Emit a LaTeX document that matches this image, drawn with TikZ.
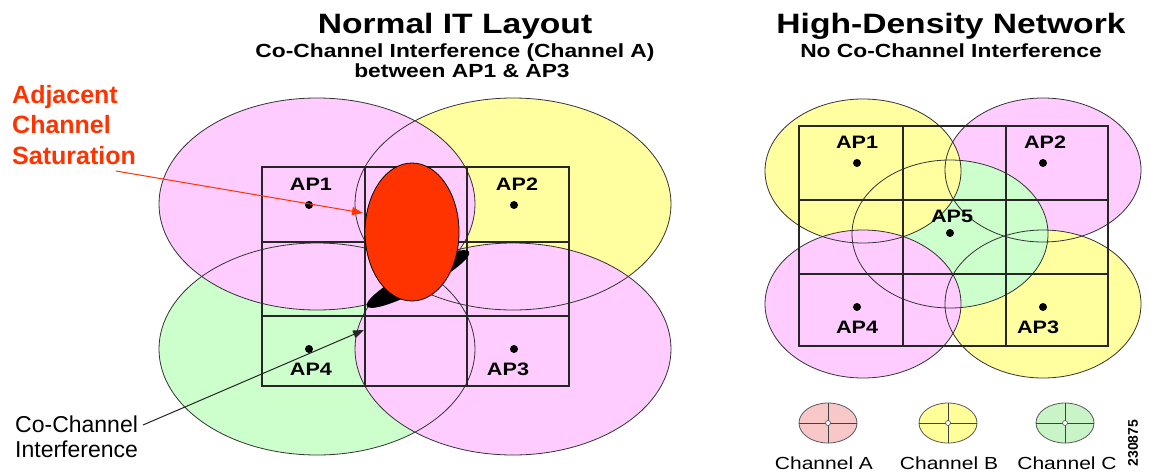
\documentclass[tikz,border=0pt]{standalone}
\usepackage{fontspec}
\setmainfont{Liberation Sans}
\usetikzlibrary{arrows.meta,shapes.geometric}
\definecolor{chpink}{HTML}{FFCCFF}
\definecolor{chyellow}{HTML}{FFFFA0}
\definecolor{chgreen}{HTML}{CCFFCC}
\definecolor{legA}{HTML}{F8C8C8}
\definecolor{legB}{HTML}{FFFF99}
\definecolor{legC}{HTML}{C8F4C8}
\definecolor{satred}{HTML}{FF3300}
\newcommand\wide[1]{\scalebox{1.2}[1]{#1}}
\begin{document}
\begin{tikzpicture}[x=1pt,y=-1pt,
  cellout/.style={draw=black!80, line width=0.8pt},
  gridline/.style={draw=black!85, line width=1.2pt},
  gridframe/.style={draw=black!85, line width=2.8pt},
  apdot/.style={circle, fill=black, inner sep=0pt, minimum size=8pt},
  aplbl/.style={font=\bfseries\fontsize{18}{18}\selectfont, anchor=base, inner sep=0pt},
  titlelbl/.style={font=\bfseries\fontsize{28}{28}\selectfont, anchor=base, inner sep=0pt},
  sublbl/.style={font=\bfseries\fontsize{19}{19}\selectfont, anchor=base, inner sep=0pt},
  satlbl/.style={font=\bfseries\fontsize{25}{25}\selectfont, text=satred, anchor=base west, inner sep=0pt},
  cclbl/.style={font=\fontsize{23}{23}\selectfont, anchor=base west, inner sep=0pt},
  leglbl/.style={font=\fontsize{17.5}{17.5}\selectfont, anchor=base, inner sep=0pt},
  legcross/.style={draw=black!75, line width=1pt},
  legring/.style={draw=black!65, line width=0.8pt},
  satarrow/.style={draw=satred, line width=1pt, -{Triangle[length=11pt,width=8pt]}},
  ccarrow/.style={draw=black!85, line width=1pt, -{Triangle[length=11pt,width=8pt]}}
]
\useasboundingbox (0,0) rectangle (1150,474);
\fill[white] (0,0) rectangle (1150,474);

% ---------- titles ----------
\node[titlelbl] (t1) at (455,33) {\wide{Normal IT Layout}};
\node[sublbl] (t1a) at (455,57) {\wide{Co-Channel Interference (Channel A)}};
\node[sublbl] (t1b) at (462,77) {\wide{between AP1 \& AP3}};
\node[titlelbl] (t2) at (951,33) {\wide{High-Density Network}};
\node[sublbl] (t2a) at (951,57) {\wide{No Co-Channel Interference}};

% ---------- left diagram: coverage cells ----------
\fill[chyellow] (513,204) ellipse [x radius=158, y radius=106];
\fill[chgreen] (317,349) ellipse [x radius=158, y radius=106];
\fill[chpink] (317,204) ellipse [x radius=158, y radius=106];
\fill[chpink] (513,349) ellipse [x radius=158, y radius=106];
\draw[cellout] (513,204) ellipse [x radius=158, y radius=106];
\draw[cellout] (317,349) ellipse [x radius=158, y radius=106];
\draw[cellout] (317,204) ellipse [x radius=158, y radius=106];
\draw[cellout] (513,349) ellipse [x radius=158, y radius=106];

% grid
\draw[gridline] (365,167) -- (365,386) (467,167) -- (467,386)
                (262,242) -- (569,242) (262,316) -- (569,316);
\draw[gridframe] (262,167) rectangle (569,386);

% shadow + saturation blob
\fill[black, rotate around={28:(418,279)}] (418,279) ellipse [x radius=58, y radius=11];
\node[ellipse, draw=black, line width=0.8pt, fill=satred, minimum width=94pt, minimum height=138pt, inner sep=0pt] (blob) at (412,232) {};

% AP points and labels
\node[apdot] (a1) at (309,205) {};
\node[apdot] (a2) at (514,205) {};
\node[apdot] (a4) at (309,349) {};
\node[apdot] (a3) at (514,349) {};
\node[aplbl] (a1l) at (311,190) {\wide{AP1}};
\node[aplbl] (a2l) at (517,190) {\wide{AP2}};
\node[aplbl] (a4l) at (311,375) {\wide{AP4}};
\node[aplbl] (a3l) at (508,375) {\wide{AP3}};

% callouts
\node[satlbl] (s1) at (12,103) {Adjacent};
\node[satlbl] (s2) at (12,133) {Channel};
\node[satlbl] (s3) at (12,164) {Saturation};
\coordinate (satstart) at (116,171);
\coordinate (sattip) at (363,213);
\draw[satarrow] (satstart) -- (sattip);

\node[cclbl] (c1) at (15,432) {Co-Channel};
\node[cclbl] (c2) at (15,457) {Interference};
\coordinate (ccstart) at (143,425);
\coordinate (cctip) at (364,330);
\draw[ccarrow] (ccstart) -- (cctip);

% ---------- right diagram ----------
\fill[chpink] (1043,170) ellipse [x radius=98, y radius=72];
\fill[chyellow] (1043,304) ellipse [x radius=98, y radius=74];
\fill[chgreen] (950,234) ellipse [x radius=98, y radius=74];
\fill[chyellow] (863,171) ellipse [x radius=98, y radius=72];
\fill[chpink] (863,304) ellipse [x radius=98, y radius=74];
\draw[cellout] (1043,170) ellipse [x radius=98, y radius=72];
\draw[cellout] (1043,304) ellipse [x radius=98, y radius=74];
\draw[cellout] (950,234) ellipse [x radius=98, y radius=74];
\draw[cellout] (863,171) ellipse [x radius=98, y radius=72];
\draw[cellout] (863,304) ellipse [x radius=98, y radius=74];

\draw[gridline] (903,126) -- (903,346) (1006,126) -- (1006,346)
                (799,200) -- (1108,200) (799,274) -- (1108,274);
\draw[gridframe] (799,126) rectangle (1108,346);

\node[apdot] (b1) at (857,163) {};
\node[apdot] (b2) at (1043,163) {};
\node[apdot] (b5) at (950,233) {};
\node[apdot] (b4) at (857,307) {};
\node[apdot] (b3) at (1043,307) {};
\node[aplbl] (b1l) at (857,148) {\wide{AP1}};
\node[aplbl] (b2l) at (1045,148) {\wide{AP2}};
\node[aplbl] (b5l) at (952,222) {\wide{AP5}};
\node[aplbl] (b4l) at (857,333) {\wide{AP4}};
\node[aplbl] (b3l) at (1038,333) {\wide{AP3}};

% ---------- legend ----------
\foreach \cx/\col in {828/legA, 948/legB, 1065/legC}{
  \fill[\col] (\cx,423) ellipse [x radius=29, y radius=20];
  \draw[legring] (\cx,423) ellipse [x radius=29, y radius=20];
  \draw[legcross] (\cx-29,423) -- (\cx+29,423) (\cx,403) -- (\cx,443);
  \draw[fill=white, draw=black!70, line width=0.6pt] (\cx,423) circle [radius=2.5];
}
\node[leglbl] (la) at (824,469) {\wide{Channel A}};
\node[leglbl] (lb) at (949,469) {\wide{Channel B}};
\node[leglbl] (lc) at (1067,469) {\wide{Channel C}};
\node[rotate=90, font=\bfseries\fontsize{14}{14}\selectfont, inner sep=0pt] (num) at (1133,443) {230875};
\end{tikzpicture}
\end{document}
